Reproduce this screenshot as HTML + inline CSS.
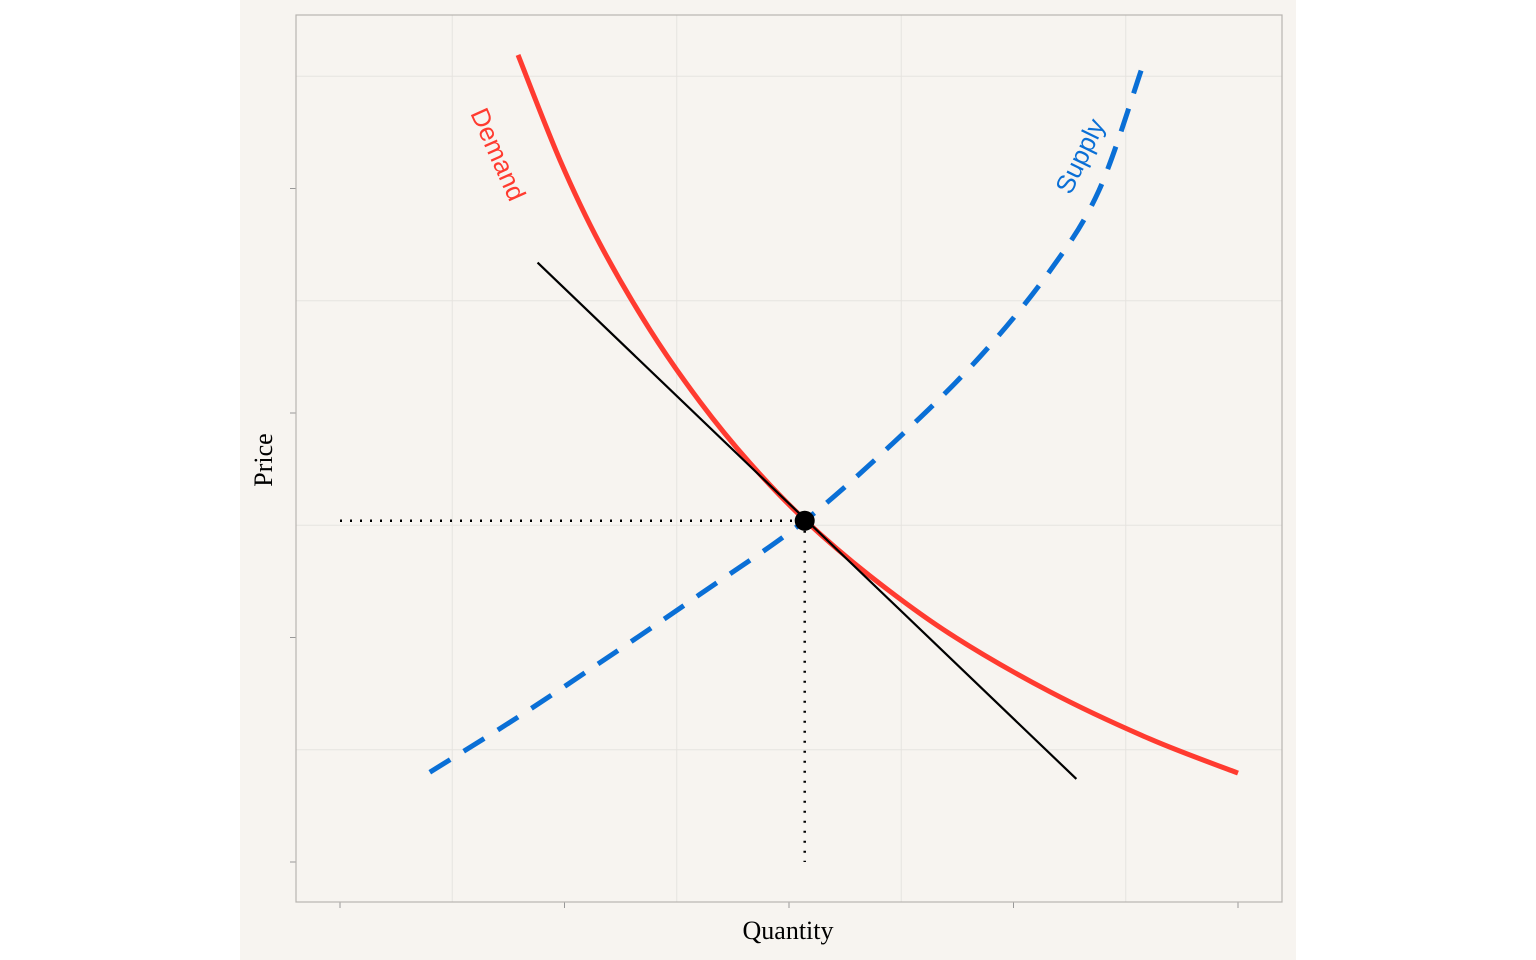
<!DOCTYPE html>
<html><head><meta charset="utf-8"><style>
html,body{margin:0;padding:0;background:#fff;width:1536px;height:960px;overflow:hidden}
svg{display:block}
</style></head><body>
<svg id="chart" width="1536" height="960">
<rect x="240" y="0" width="1056" height="960" fill="#f7f4f0"/>
<g id="grid"></g>
<rect x="296" y="15" width="986" height="887" fill="none" stroke="#b8b4b0" stroke-width="1.2"/>
<g id="marks"></g>
<text x="788" y="939" font-family="Liberation Serif, serif" font-size="26" text-anchor="middle">Quantity</text>
<text transform="translate(272,460) rotate(-90)" font-family="Liberation Serif, serif" font-size="26" text-anchor="middle">Price</text>
</svg>
<script>
const xTicks=[0,1,2,3,4];
const yTicks=[0,1,2,3];
const demandX=[0.793,0.980,1.158,1.381,1.604,1.826,2.071,2.361,2.717,3.163,3.608,4.0];
const demandY=[3.595,3.126,2.753,2.370,2.049,1.777,1.523,1.274,1.016,0.758,0.548,0.396];
const supplyX=[0.40,0.80,1.25,1.60,2.07,2.50,2.85,3.16,3.38,3.57];
const supplyY=[0.40,0.65,0.95,1.19,1.52,1.90,2.25,2.63,2.99,3.53];
const tangentX=[0.88,3.28];
const tangentY=[2.67,0.37];
const eqX=[2.07];
const eqY=[1.52];
const sx=v=>340+v*224.5;
const sy=v=>862-v*224.5;
const NS='http://www.w3.org/2000/svg';
function mk(tag,attrs,parent){const e=document.createElementNS(NS,tag);for(const k in attrs)e.setAttribute(k,attrs[k]);parent.appendChild(e);return e;}
const grid=document.getElementById('grid'),marks=document.getElementById('marks');
for(let i=0;i<xTicks.length-1;i++){const gx=sx(xTicks[i]+0.5);
 const g=mk('line',{x1:gx,x2:gx,y1:15,y2:902,stroke:'#e6e3df','stroke-width':1},grid);
 
 }
for(let i=0;i<yTicks.length;i++){const gy=sy(yTicks[i]+0.5);
 const g=mk('line',{x1:296,x2:1282,y1:gy,y2:gy,stroke:'#e6e3df','stroke-width':1},grid);
 
 }
xTicks.forEach(t=>{const e=mk('line',{x1:sx(t),x2:sx(t),y1:902,y2:908,stroke:'#999','stroke-width':1},grid);
 
 });
yTicks.forEach(t=>{const e=mk('line',{x1:290,x2:296,y1:sy(t),y2:sy(t),stroke:'#999','stroke-width':1},grid);
 
 });
function smooth(xs,ys){const p=xs.map((x,i)=>[sx(x),sy(ys[i])]);let d='M'+p[0][0]+','+p[0][1];
 for(let i=0;i<p.length-1;i++){const p0=p[Math.max(0,i-1)],p1=p[i],p2=p[i+1],p3=p[Math.min(p.length-1,i+2)];
 const c1=[p1[0]+(p2[0]-p0[0])/6,p1[1]+(p2[1]-p0[1])/6],c2=[p2[0]-(p3[0]-p1[0])/6,p2[1]-(p3[1]-p1[1])/6];
 d+=' C'+c1+' '+c2+' '+p2;}return d;}
let e=mk('line',{x1:sx(0),x2:sx(eqX[0]),y1:sy(eqY[0]),y2:sy(eqY[0]),stroke:'#000','stroke-width':2.5,'stroke-dasharray':'2,8'},marks);


e=mk('line',{x1:sx(eqX[0]),x2:sx(eqX[0]),y1:sy(eqY[0]),y2:sy(0),stroke:'#000','stroke-width':2.5,'stroke-dasharray':'2,8'},marks);


e=mk('path',{d:smooth(supplyX,supplyY),fill:'none',stroke:'#0a6fd6','stroke-width':5,'stroke-dasharray':'24,16'},marks);


e=mk('path',{d:smooth(demandX,demandY),fill:'none',stroke:'#ff3b30','stroke-width':5},marks);


e=mk('line',{x1:sx(tangentX[0]),x2:sx(tangentX[1]),y1:sy(tangentY[0]),y2:sy(tangentY[1]),stroke:'#000','stroke-width':2.2},marks);


e=mk('circle',{cx:sx(eqX[0]),cy:sy(eqY[0]),r:10,fill:'#000'},marks);


e=mk('text',{transform:'translate(490,158) rotate(66)','font-family':'Liberation Sans, sans-serif','font-size':26,fill:'#ff3b30','text-anchor':'middle'},marks);
e.textContent='Demand';


e=mk('text',{transform:'translate(1088,160) rotate(-64)','font-family':'Liberation Sans, sans-serif','font-size':26,fill:'#0a6fd6','text-anchor':'middle'},marks);
e.textContent='Supply';


</script>
</body></html>
